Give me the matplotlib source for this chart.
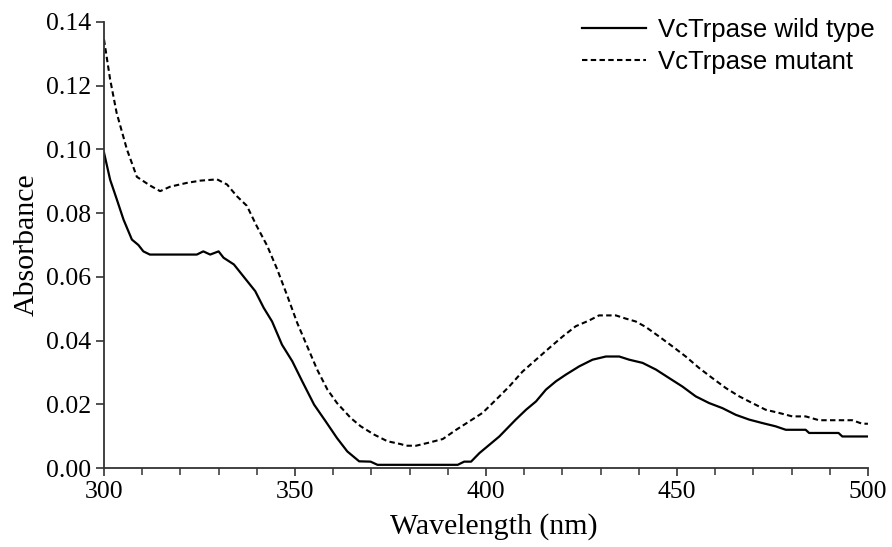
import matplotlib
matplotlib.use("Agg")
import matplotlib.pyplot as plt
from matplotlib.ticker import MultipleLocator

# spectra (wavelength in nm, absorbance)
wl_wild = [300, 301.6, 303.3, 305.1, 307.3, 309, 310.3, 312, 318, 324.3, 326, 327.8, 330,
           331.3, 334, 336.6, 339.6, 341.8, 344, 346.6, 349.3, 351.9, 355, 358, 361,
           363.7, 366.8, 369.8, 371.6, 380, 392.6, 394.3, 396.1, 398.3, 400.9, 403.5,
           405.2, 407.8, 410.5, 413.1, 415.7, 418.3, 420.9, 424.4, 427.9, 431.4, 434.9,
           437.5, 441, 444.5, 448, 451.4, 454.9, 458.4, 461.9, 465.4, 468.9, 472.4,
           475.8, 478.5, 483.7, 484.6, 492.3, 493.3, 500]
abs_wild = [0.099, 0.0905, 0.0845, 0.078, 0.0717, 0.070, 0.068, 0.067, 0.067, 0.067, 0.068,
            0.067, 0.068, 0.066, 0.0639, 0.060, 0.0555, 0.0503, 0.046, 0.0387, 0.0335,
            0.0272, 0.0199, 0.0147, 0.0094, 0.0052, 0.0021, 0.002, 0.001, 0.001, 0.001,
            0.002, 0.002, 0.0047, 0.0073, 0.0099, 0.012, 0.0152, 0.0183, 0.0209, 0.0246,
            0.0272, 0.0293, 0.0319, 0.034, 0.035, 0.035, 0.034, 0.033, 0.0309, 0.0282,
            0.0256, 0.0225, 0.0204, 0.0188, 0.0167, 0.0152, 0.0141, 0.0131, 0.012, 0.012,
            0.011, 0.011, 0.0099, 0.0099]

wl_mut = [300, 301.6, 303.3, 306, 308.6, 312, 314.7, 317.3, 321.7, 325.2, 329.6, 332.2,
          334.8, 337.4, 340, 342.7, 345.3, 348, 350.6, 353.2, 355.8, 358.5, 361, 364.6,
          367.2, 370.7, 374.2, 377.7, 379.1, 381.7, 385.2, 388.7, 392.2, 395.6, 399.1,
          402.6, 406.1, 409.6, 413.1, 416.6, 420.1, 423.5, 427, 429.6, 434, 436.6, 439.2,
          441.8, 445.3, 448.8, 452.3, 455.8, 459.3, 462.8, 466.3, 469.7, 473.2, 476.7,
          480.2, 483.7, 487.2, 495.9, 498.5, 500]
abs_mut = [0.1345, 0.122, 0.1115, 0.100, 0.0914, 0.0887, 0.0869, 0.0883, 0.0895, 0.0902,
           0.0906, 0.089, 0.0853, 0.0823, 0.0759, 0.0698, 0.0625, 0.054, 0.0455, 0.0382,
           0.0309, 0.0246, 0.0204, 0.0157, 0.0131, 0.0105, 0.0084, 0.0075, 0.007, 0.007,
           0.008, 0.0091, 0.012, 0.0146, 0.0173, 0.0214, 0.0256, 0.0303, 0.034, 0.0377,
           0.0413, 0.0445, 0.0463, 0.0479, 0.0479, 0.0469, 0.046, 0.0443, 0.0413, 0.0382,
           0.035, 0.0314, 0.0282, 0.0251, 0.0225, 0.0204, 0.0183, 0.0173, 0.0162, 0.0162,
           0.015, 0.015, 0.0139, 0.0139]

serif = ["Liberation Serif", "DejaVu Serif"]
sans = ["Liberation Sans", "DejaVu Sans"]

fig = plt.figure(figsize=(8.92, 5.47), dpi=100)
ax = fig.add_axes([0.1166, 0.1444, 0.8564, 0.8154])

ax.plot(wl_wild, abs_wild, color="black", lw=1.6, label="VcTrpase wild type")
ax.plot(wl_mut, abs_mut, color="black", lw=1.5, linestyle=(0, (2.6, 1.6)),
        label="VcTrpase mutant")

ax.set_xlim(300, 500)
ax.set_ylim(0, 0.14)
ax.xaxis.set_major_locator(MultipleLocator(50))
ax.xaxis.set_minor_locator(MultipleLocator(10))
ax.yaxis.set_major_locator(MultipleLocator(0.02))
ax.yaxis.set_major_formatter(plt.FormatStrFormatter("%.2f"))

for s in ["top", "right"]:
    ax.spines[s].set_visible(False)
for s in ["left", "bottom"]:
    ax.spines[s].set_color("#333333")
    ax.spines[s].set_linewidth(1.3)

ax.tick_params(which="major", direction="out", length=6, width=1.2, color="#333333",
               labelsize=18.5, pad=3)
ax.tick_params(which="minor", direction="out", length=5, width=1.1, color="#333333")
for lab in ax.get_xticklabels() + ax.get_yticklabels():
    lab.set_family(serif)

ax.set_xlabel("Wavelength (nm)", family=serif, fontsize=21.5, labelpad=2)
ax.xaxis.set_label_coords(0.51, -0.1)
ax.set_ylabel("Absorbance", family=serif, fontsize=21.5, labelpad=5)

ax.legend(loc="upper right", bbox_to_anchor=(0.995, 0.99), bbox_transform=fig.transFigure,
          frameon=False, prop={"family": sans, "size": 18.5}, handlelength=2.5,
          handletextpad=0.45, labelspacing=0.3, borderaxespad=0.3, borderpad=0.2)

fig.savefig("out.png", dpi=100)
